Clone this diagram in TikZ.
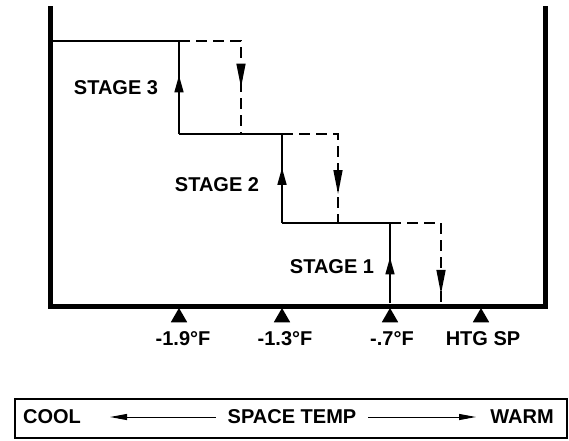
\documentclass[tikz,border=0pt]{standalone}
\usepackage{fontspec}
\setmainfont{Liberation Sans}
\usetikzlibrary{arrows.meta,positioning,shapes.geometric,decorations.markings}

\tikzset{
  wall/.style={line width=5pt, line join=miter},
  stepline/.style={line width=1.6pt},
  dropline/.style={line width=1.6pt, dash pattern=on 11pt off 6pt},
  uparrow/.style={postaction={decorate}, decoration={markings,
      mark=at position #1 with {\arrow{Triangle[length=17pt,width=9pt]}}}},
  downarrow/.style={postaction={decorate}, decoration={markings,
      mark=at position #1 with {\arrow{Triangle[length=24pt,width=9pt]}}}},
  tri/.style={regular polygon, regular polygon sides=3, fill, inner sep=0pt,
      outer sep=0pt, minimum size=19pt, anchor=corner 1},
  lbl/.style={font=\bfseries\fontsize{20}{22}\selectfont, inner sep=0pt}
}

\begin{document}
\begin{tikzpicture}[x=1pt, y=-1pt]
  \useasboundingbox (0,0) rectangle (569,440);

  % chart frame
  \coordinate (tl) at (50,6);
  \coordinate (bl) at (50,306);
  \coordinate (br) at (545,306);
  \coordinate (tr) at (545,6);
  \draw[wall] (tl) -- (bl) -- (br) -- (tr);

  % step corners
  \coordinate (s3l) at (50,41);
  \coordinate (s3on) at (179,41);
  \coordinate (s3off) at (241,41);
  \coordinate (s3bot) at (179,134);
  \coordinate (s3drop) at (241,134);
  \coordinate (s2on) at (282,134);
  \coordinate (s2off) at (338,134);
  \coordinate (s2bot) at (282,223);
  \coordinate (s2drop) at (338,223);
  \coordinate (s1on) at (390,223);
  \coordinate (s1off) at (441,223);
  \coordinate (s1bot) at (390,303);
  \coordinate (s1drop) at (441,303);

  % staging on (solid)
  \draw[stepline] (s3l) -- (s3on);
  \draw[stepline, uparrow=0.63] (s3bot) -- (s3on);
  \draw[stepline] (s3bot) -- (s2on);
  \draw[stepline, uparrow=0.62] (s2bot) -- (s2on);
  \draw[stepline] (s2bot) -- (s1on);
  \draw[stepline, uparrow=0.57] (s1bot) -- (s1on);

  % staging off (dashed)
  \draw[dropline, downarrow=0.70] (s3on) -- (s3off) -- (s3drop);
  \draw[dropline, downarrow=0.80] (s2on) -- (s2off) -- (s2drop);
  \draw[dropline, downarrow=0.93] (s1on) -- (s1off) -- (s1drop);

  \node[lbl] (stage3) at (116,88) {STAGE 3};
  \node[lbl] (stage2) at (217,185) {STAGE 2};
  \node[lbl] (stage1) at (332,267) {STAGE 1};

  % setpoint markers
  \node[tri] (t1) at (179,308) {};
  \node[tri] (t2) at (282,308) {};
  \node[tri] (t3) at (390,308) {};
  \node[tri] (t4) at (481,308) {};
  \node[lbl] (v1) at (183,339) {-1.9°F};
  \node[lbl] (v2) at (285,339) {-1.3°F};
  \node[lbl] (v3) at (392,339) {-.7°F};
  \node[lbl] (v4) at (483,339) {HTG SP};

  % temperature scale
  \node[draw, line width=1.2pt, minimum width=552pt, minimum height=39pt,
    inner sep=0pt] (scale) at (291,418.5) {};
  \node[lbl] (cool) at (52,417) {COOL};
  \node[lbl] (warm) at (522,417) {WARM};
  \node[lbl, inner xsep=12pt] (temp) at (292,417) {SPACE TEMP};
  \coordinate (coolend) at (110,417);
  \coordinate (warmend) at (476,417);
  \draw[line width=1pt, -{Triangle[length=17pt,width=6pt]}] (temp.west) -- (coolend);
  \draw[line width=1pt, -{Triangle[length=17pt,width=6pt]}] (temp.east) -- (warmend);
\end{tikzpicture}
\end{document}
